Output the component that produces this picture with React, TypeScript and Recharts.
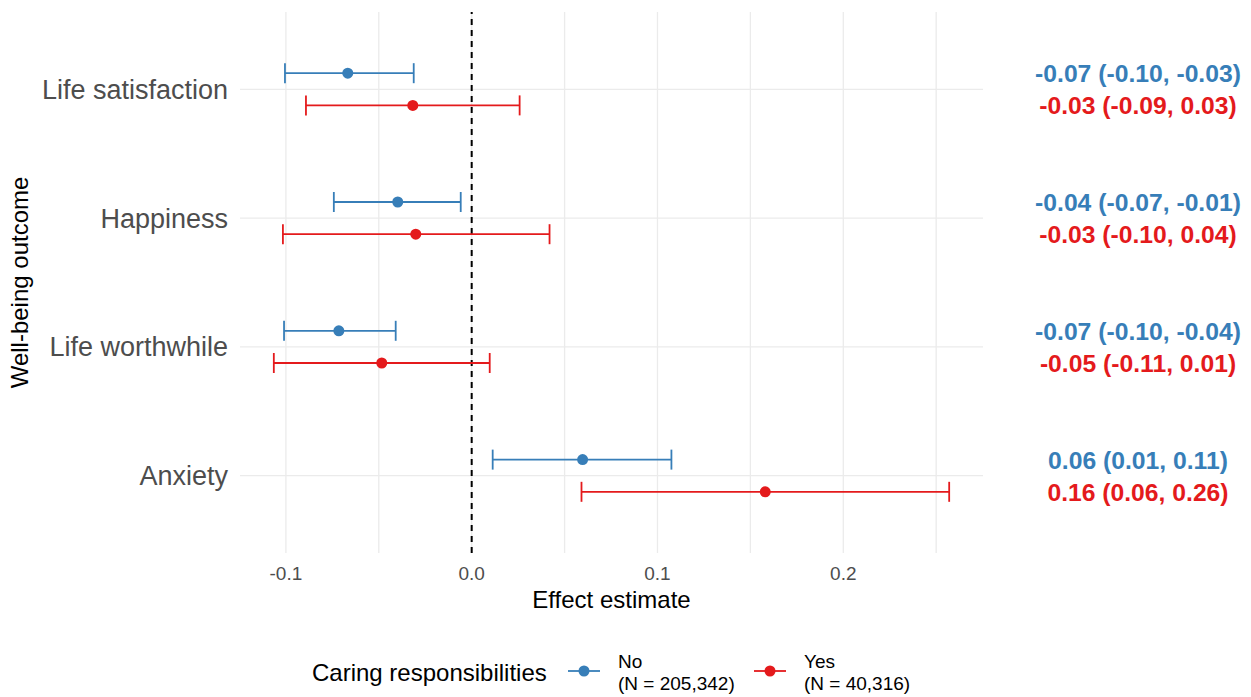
import {
  ScatterChart,
  Scatter,
  XAxis,
  YAxis,
  CartesianGrid,
  ErrorBar,
  ReferenceLine,
  Label,
} from "recharts";

/* ===== data ===== */
const outcomes = ["Life satisfaction", "Happiness", "Life worthwhile", "Anxiety"];

const noEst = [-0.0667, -0.0398, -0.0715, 0.0597];
const noLow = [-0.1005, -0.0742, -0.101, 0.0113];
const noHigh = [-0.0312, -0.0059, -0.0409, 0.1075];

const yesEst = [-0.0317, -0.0301, -0.0484, 0.158];
const yesLow = [-0.0892, -0.1016, -0.1065, 0.0591];
const yesHigh = [0.0258, 0.0419, 0.0097, 0.257];

const xTicks = [-0.1, -0.05, 0, 0.05, 0.1, 0.15, 0.2, 0.25];
const xLabelled = [-0.1, 0, 0.1, 0.2];
const yTicks = [1, 2, 3, 4];

const groups = ["No", "Yes"];
const groupN = ["205,342", "40,316"];

/* ===== style ===== */
const FONT = "'Liberation Sans', Arial, Helvetica, sans-serif";
const BLUE = "#377EB8";
const RED = "#E41A1C";
const GRID = "#EBEBEB";
const DODGE = 0.125;
const X_DOMAIN: [number, number] = [-0.1247, 0.2752];
const Y_DOMAIN: [number, number] = [0.4, 4.6];

const W = 1251;
const H = 697;

const fmt = (v: number) => v.toFixed(2);

// outcome i sits at y = n - i, so the first outcome is at the top
const buildRows = (est: number[], low: number[], high: number[], shift: number) =>
  outcomes.map((name, i) => ({
    name,
    est: est[i],
    low: low[i],
    high: high[i],
    y: outcomes.length - i + shift,
    err: [est[i] - low[i], high[i] - est[i]],
  }));

const noRows = buildRows(noEst, noLow, noHigh, DODGE);
const yesRows = buildRows(yesEst, yesLow, yesHigh, -DODGE);

// grid only at the tick values, not around the panel edge
const gridX = ({ offset }: any) =>
  xTicks.map((v) => offset.left + ((v - X_DOMAIN[0]) / (X_DOMAIN[1] - X_DOMAIN[0])) * offset.width);
const gridY = ({ offset }: any) =>
  yTicks.map((v) => offset.top + ((Y_DOMAIN[1] - v) / (Y_DOMAIN[1] - Y_DOMAIN[0])) * offset.height);

// point plus the estimate text in the right-hand column
const makeShape = (color: string) => (props: any) => {
  const { cx, cy, payload } = props;
  return (
    <g>
      <circle cx={cx} cy={cy} r={5.5} fill={color} />
      <text
        x={1138}
        y={cy}
        dy="0.36em"
        textAnchor="middle"
        fill={color}
        fontFamily={FONT}
        fontWeight="bold"
        fontSize={24.7}
      >
        {`${fmt(payload.est)} (${fmt(payload.low)}, ${fmt(payload.high)})`}
      </text>
    </g>
  );
};

const App = () => {
  return (
    <div style={{ position: "absolute", left: 0, top: 0, width: W, height: H, background: "#fff" }}>
      <ScatterChart
        width={W}
        height={H}
        margin={{ top: 12, right: 268, left: 0, bottom: 84 }}
        style={{ fontFamily: FONT }}
      >
        <CartesianGrid
          stroke={GRID}
          strokeWidth={1.3}
          verticalCoordinatesGenerator={gridX}
          horizontalCoordinatesGenerator={gridY}
        />
        <XAxis
          type="number"
          dataKey="est"
          domain={X_DOMAIN}
          ticks={xTicks}
          interval={0}
          height={60}
          axisLine={false}
          tickLine={false}
          tickSize={0}
          tickMargin={14}
          tick={{ fill: "#4D4D4D", fontSize: 19 }}
          tickFormatter={(v: number) => (xLabelled.some((t) => Math.abs(t - v) < 1e-9) ? v.toFixed(1) : "")}
        >
          <Label
            content={({ viewBox }: any) => (
              <text
                x={viewBox.x + viewBox.width / 2}
                y={viewBox.y + 55}
                textAnchor="middle"
                fill="#000"
                fontSize={24}
                fontFamily={FONT}
              >
                Effect estimate
              </text>
            )}
          />
        </XAxis>
        <YAxis
          type="number"
          dataKey="y"
          domain={Y_DOMAIN}
          ticks={yTicks}
          interval={0}
          width={240}
          axisLine={false}
          tickLine={false}
          tickSize={0}
          tickMargin={12}
          tick={{ fill: "#4D4D4D", fontSize: 27 }}
          tickFormatter={(v: number) => outcomes[outcomes.length - v] ?? ""}
        >
          <Label
            content={({ viewBox }: any) => {
              const cx = 19;
              const cy = viewBox.y + viewBox.height / 2;
              return (
                <text
                  x={cx}
                  y={cy}
                  dy="0.36em"
                  transform={`rotate(-90, ${cx}, ${cy})`}
                  textAnchor="middle"
                  fill="#000"
                  fontSize={24}
                  fontFamily={FONT}
                >
                  Well-being outcome
                </text>
              );
            }}
          />
        </YAxis>
        <ReferenceLine x={0} stroke="#000" strokeWidth={2} strokeDasharray="6 5" />
        <Scatter
          name={groups[0]}
          data={noRows}
          fill={BLUE}
          shape={makeShape(BLUE)}
          isAnimationActive={false}
        >
          <ErrorBar dataKey="err" direction="x" width={10} stroke={BLUE} strokeWidth={1.8} />
        </Scatter>
        <Scatter
          name={groups[1]}
          data={yesRows}
          fill={RED}
          shape={makeShape(RED)}
          isAnimationActive={false}
        >
          <ErrorBar dataKey="err" direction="x" width={10} stroke={RED} strokeWidth={1.8} />
        </Scatter>
      </ScatterChart>

      {/* legend */}
      <svg
        width={W}
        height={50}
        style={{ position: "absolute", left: 0, top: 647 }}
        fontFamily={FONT}
      >
        <text x={312} y={25} dy="0.36em" fontSize={24} fill="#000">
          Caring responsibilities
        </text>
        {[BLUE, RED].map((c, i) => {
          const x0 = i === 0 ? 568 : 754;
          return (
            <g key={groups[i]}>
              <line x1={x0} x2={x0 + 32} y1={24} y2={24} stroke={c} strokeWidth={1.8} />
              <circle cx={x0 + 16} cy={24} r={5.5} fill={c} />
              <text x={x0 + 50} y={21} fontSize={19} fill="#000">
                {groups[i]}
              </text>
              <text x={x0 + 50} y={43} fontSize={19} fill="#000">
                {`(N = ${groupN[i]})`}
              </text>
            </g>
          );
        })}
      </svg>
    </div>
  );
};

export default App;
